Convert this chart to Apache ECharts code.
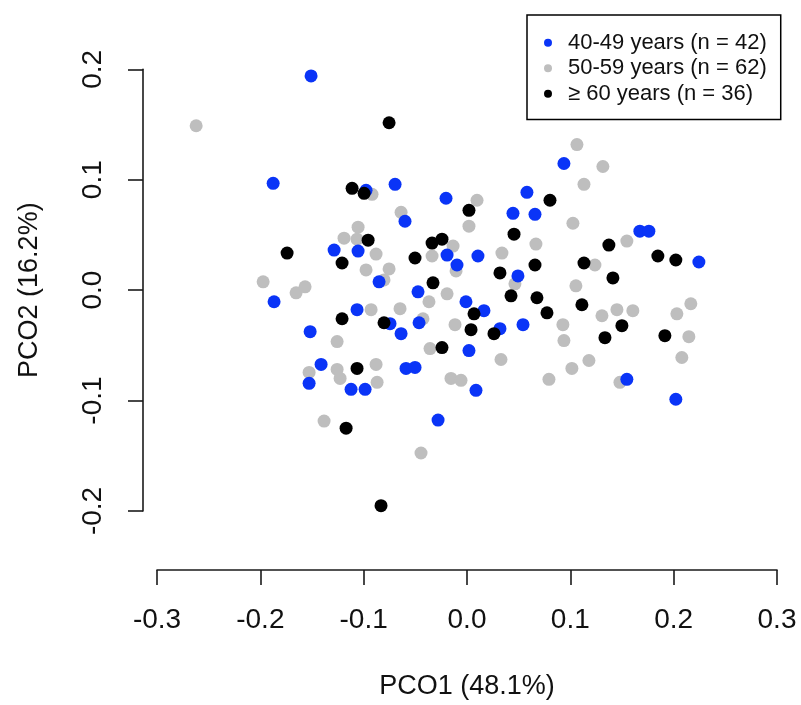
<!DOCTYPE html>
<html>
<head>
<meta charset="utf-8">
<script src="https://cdn.jsdelivr.net/npm/echarts@6/dist/echarts.min.js"></script>
<style>
  html, body { margin: 0; padding: 0; background: #fff; }
  #chart { width: 801px; height: 705px; }
</style>
</head>
<body>
<div id="chart"></div>
<script>
// PCoA ordination scores (PCO1, PCO2) by age group
const groupNames = ['40-49 years (n = 42)', '50-59 years (n = 62)', '\u2265 60 years (n = 36)'];
const groupColors = ['#0a34f7', '#bebebe', '#000000'];

const age40to49 = [
  [-0.1509, 0.1940], [-0.1876, 0.0967], [-0.0977, 0.0904], [-0.0696, 0.0958],
  [-0.0203, 0.0832], [0.0580, 0.0886], [0.0445, 0.0696], [0.0658, 0.0687],
  [-0.0600, 0.0624], [0.0938, 0.1147], [-0.1286, 0.0363], [-0.1054, 0.0354],
  [-0.1867, -0.0105], [-0.1064, -0.0177], [-0.1518, -0.0376], [-0.1412, -0.0673],
  [-0.0193, 0.0318], [0.0106, 0.0309], [-0.0097, 0.0228], [-0.0851, 0.0075],
  [0.0493, 0.0129], [-0.0474, -0.0015], [-0.0010, -0.0105], [0.0164, -0.0186],
  [-0.0464, -0.0295], [-0.0745, -0.0304], [-0.0638, -0.0394], [0.0319, -0.0349],
  [0.0542, -0.0313], [0.0019, -0.0547], [-0.0590, -0.0709], [-0.0503, -0.0700],
  [0.1673, 0.0534], [0.1760, 0.0534], [0.2244, 0.0255], [-0.1528, -0.0844],
  [-0.1122, -0.0898], [-0.0986, -0.0898], [0.0087, -0.0907], [-0.0280, -0.1177],
  [0.1547, -0.0808], [0.2021, -0.0988]
];

const age50to59 = [
  [-0.2621, 0.1489], [-0.0919, 0.0868], [-0.0638, 0.0705], [0.0097, 0.0814],
  [0.1064, 0.1318], [0.1315, 0.1120], [0.1132, 0.0958], [0.1025, 0.0606],
  [-0.1054, 0.0570], [-0.1190, 0.0471], [-0.1064, 0.0462], [-0.1973, 0.0075],
  [-0.1567, 0.0030], [-0.1654, -0.0024], [-0.1257, -0.0466], [-0.1528, -0.0745],
  [-0.1257, -0.0718], [0.0019, 0.0579], [-0.0135, 0.0399], [0.0667, 0.0417],
  [-0.0880, 0.0327], [-0.0338, 0.0309], [0.0338, 0.0336], [-0.0106, 0.0174],
  [-0.0977, 0.0183], [-0.0754, 0.0192], [-0.0803, 0.0093], [0.0464, 0.0057],
  [-0.0193, -0.0033], [-0.0368, -0.0105], [-0.0928, -0.0177], [-0.0648, -0.0168],
  [-0.0426, -0.0259], [-0.0116, -0.0313], [-0.0358, -0.0529], [0.0329, -0.0628],
  [-0.0880, -0.0673], [0.1547, 0.0444], [0.1238, 0.0228], [0.1054, 0.0039],
  [0.2166, -0.0123], [0.2031, -0.0214], [0.1306, -0.0232], [0.1451, -0.0177],
  [0.1605, -0.0186], [0.0928, -0.0313], [0.2147, -0.0421], [0.0938, -0.0457],
  [0.2079, -0.0610], [0.1180, -0.0637], [0.1015, -0.0709], [-0.1228, -0.0799],
  [-0.1383, -0.1186], [-0.0870, -0.0835], [-0.0155, -0.0799], [-0.0058, -0.0817],
  [-0.0445, -0.1475], [0.0793, -0.0808], [0.1480, -0.0835]
];

const age60plus = [
  [-0.1112, 0.0922], [-0.0996, 0.0877], [-0.0754, 0.1516], [0.0019, 0.0723],
  [0.0803, 0.0814], [-0.1741, 0.0336], [-0.1209, 0.0246], [-0.1209, -0.0259],
  [-0.1064, -0.0709], [-0.0957, 0.0453], [-0.0338, 0.0426], [-0.0242, 0.0462],
  [0.0455, 0.0507], [-0.0503, 0.0291], [0.0658, 0.0228], [-0.0329, 0.0066],
  [0.0319, 0.0156], [0.0426, -0.0051], [0.0677, -0.0069], [0.0068, -0.0214],
  [-0.0803, -0.0295], [0.0039, -0.0358], [0.0261, -0.0394], [-0.0242, -0.0520],
  [0.1373, 0.0408], [0.1847, 0.0309], [0.2021, 0.0273], [0.1132, 0.0246],
  [0.1412, 0.0111], [0.1112, -0.0132], [0.0774, -0.0205], [0.1499, -0.0322],
  [0.1335, -0.0430], [0.1915, -0.0412], [-0.1170, -0.1250], [-0.0832, -0.1952]
];

const xTitle = 'PCO1 (48.1%)';
const yTitle = 'PCO2 (16.2%)';

const font = "'Liberation Sans', Arial, Helvetica, sans-serif";
const axisColor = '#1a1a1a';

const chart = echarts.init(document.getElementById('chart'), null, { renderer: 'canvas' });

function scatter(name, data, color) {
  return {
    name: name,
    type: 'scatter',
    data: data,
    symbol: 'circle',
    symbolSize: 13,
    itemStyle: { color: color, opacity: 1 },
    emphasis: { disabled: true }
  };
}

chart.setOption({
  animation: false,
  backgroundColor: '#ffffff',
  textStyle: { fontFamily: font },
  grid: { left: 157, right: 24, top: 69.3, bottom: 191.7, containLabel: false },
  legend: {
    data: groupNames,
    orient: 'vertical',
    left: 527,
    top: 15,
    icon: 'circle',
    itemWidth: 30,
    itemHeight: 8,
    itemGap: 0,
    padding: [15, 14, 13, 17],
    borderColor: '#000',
    borderWidth: 1.5,
    textStyle: { fontSize: 22, color: '#111', fontFamily: font, lineHeight: 25.5 }
  },
  xAxis: {
    type: 'value',
    min: -0.3, max: 0.3, interval: 0.1,
    offset: 59,
    name: xTitle,
    nameLocation: 'middle',
    nameGap: 103,
    nameTextStyle: { fontSize: 27, color: '#111', fontFamily: font },
    axisLine: { show: true, onZero: false, lineStyle: { color: axisColor, width: 1.6 } },
    axisTick: { show: true, inside: false, length: 15, lineStyle: { color: axisColor, width: 1.6 } },
    axisLabel: { fontSize: 28, color: '#111', margin: 36, fontFamily: font,
      formatter: v => v.toFixed(1) },
    splitLine: { show: false }
  },
  yAxis: {
    type: 'value',
    min: -0.2, max: 0.2, interval: 0.1,
    offset: 14,
    name: yTitle,
    nameLocation: 'middle',
    nameRotate: 90,
    nameGap: 100,
    nameTextStyle: { fontSize: 27, color: '#111', fontFamily: font },
    axisLine: { show: true, onZero: false, lineStyle: { color: axisColor, width: 1.6 } },
    axisTick: { show: true, inside: false, length: 15, lineStyle: { color: axisColor, width: 1.6 } },
    axisLabel: { fontSize: 28, color: '#111', margin: 36, rotate: 90, fontFamily: font,
      formatter: v => v.toFixed(1) },
    splitLine: { show: false }
  },
  series: [
    scatter(groupNames[1], age50to59, groupColors[1]),
    scatter(groupNames[0], age40to49, groupColors[0]),
    scatter(groupNames[2], age60plus, groupColors[2])
  ]
});
</script>
</body>
</html>
